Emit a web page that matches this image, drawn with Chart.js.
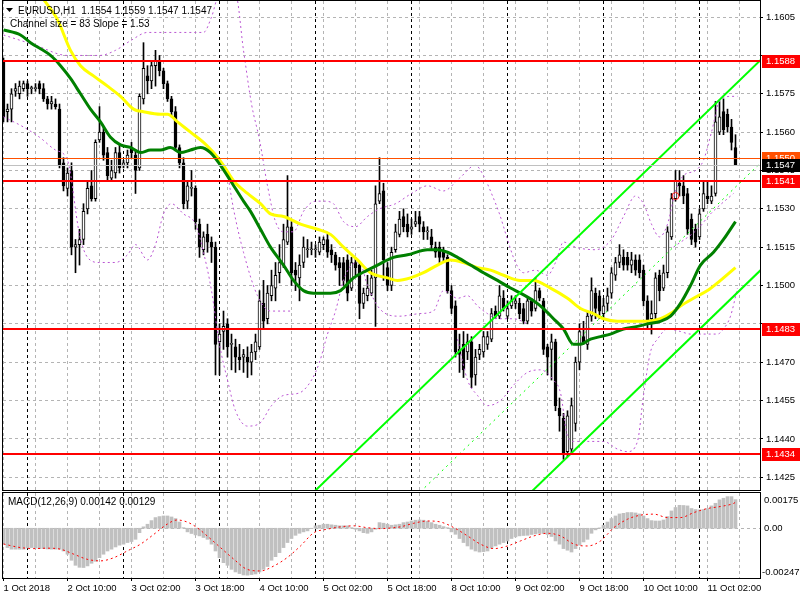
<!DOCTYPE html>
<html>
<head>
<meta charset="utf-8">
<title>EURUSD H1</title>
<script src="https://cdn.jsdelivr.net/npm/chart.js@4.4.1/dist/chart.umd.min.js"></script>
<style>
  html, body { margin:0; padding:0; background:#ffffff; width:800px; height:600px; overflow:hidden; }
  .pane { position:absolute; left:0; width:800px; }
  #mainPane { top:0; height:491px; }
  #macdPane { top:492px; height:108px; }
  canvas { display:block; }
</style>
</head>
<body>
<div class="pane" id="mainPane"><canvas id="mainChart" width="800" height="491"></canvas></div>
<div class="pane" id="macdPane"><canvas id="macdChart" width="800" height="108"></canvas></div>
<script>
// ---------------- DATA ----------------
const symbol = 'EURUSD';
const timeframe = 'H1';
const channelText = 'Channel size = 83 Slope = 1.53';

const timeTickBars = [0, 16, 32, 48, 64, 80, 96, 112, 128, 144, 160, 176];
const timeTickLabels = ['1 Oct 2018', '2 Oct 10:00', '3 Oct 02:00', '3 Oct 18:00', '4 Oct 10:00', '5 Oct 02:00',
  '5 Oct 18:00', '8 Oct 10:00', '9 Oct 02:00', '9 Oct 18:00', '10 Oct 10:00', '11 Oct 02:00'];
const gridBars = [0, 8, 16, 24, 32, 40, 48, 56, 64, 72, 80, 88, 96, 104, 112, 120, 128, 136, 144, 152, 160, 168, 176, 184];
const daySeparators = [6, 30, 54, 78, 102, 126, 150, 174];

const priceTicks = [1.1425, 1.1440, 1.1455, 1.1470, 1.1485, 1.1500, 1.1515, 1.1530, 1.1545, 1.1560, 1.1575, 1.1590, 1.1605];
const hiddenPriceLabels = [1.1590, 1.1485];
const levelPrices = [1.1588, 1.1541, 1.1483, 1.1434];
const askPrice = 1.1550;
const bidPrice = 1.1547;
const markerBars = [168];
const markerPrices = [1.1535];

const opens = [
1.1588,1.1568,1.1569,1.1576,1.1575,1.1577,1.1579,1.1577,1.1577,1.1579,
1.1577,1.1573,1.1571,1.1571,1.1569,1.1548,1.1538,1.1545,1.1515,1.1516,
1.1518,1.1530,1.1539,1.1534,1.1557,1.1560,1.1552,1.1542,1.1544,1.1552,
1.1547,1.1548,1.1554,1.1551,1.1546,1.1573,1.1582,1.1580,1.1586,1.1588,
1.1584,1.1579,1.1573,1.1568,1.1554,1.1548,1.1533,1.1538,1.1538,1.1524,
1.1514,1.1520,1.1517,1.1515,1.1478,1.1482,1.1485,1.1477,1.1476,1.1472,
1.1472,1.1472,1.1470,1.1474,1.1476,1.1493,1.1487,1.1496,1.1499,1.1505,
1.1508,1.1517,1.1523,1.1506,1.1503,1.1509,1.1514,1.1514,1.1514,1.1513,
1.1516,1.1518,1.1514,1.1512,1.1509,1.1509,1.1510,1.1499,1.1509,1.1508,
1.1493,1.1496,1.1497,1.1503,1.1533,1.1537,1.1507,1.1500,1.1514,1.1520,
1.1527,1.1524,1.1522,1.1524,1.1527,1.1523,1.1521,1.1519,1.1515,1.1515,
1.1513,1.1511,1.1498,1.1492,1.1475,1.1477,1.1474,1.1478,1.1465,1.1473,
1.1474,1.1477,1.1479,1.1490,1.1488,1.1495,1.1488,1.1492,1.1493,1.1493,
1.1491,1.1486,1.1494,1.1491,1.1498,1.1494,1.1476,1.1475,1.1478,1.1452,
1.1448,1.1435,1.1436,1.1446,1.1470,1.1480,1.1477,1.1488,1.1497,1.1496,
1.1489,1.1493,1.1497,1.1504,1.1509,1.1511,1.1511,1.1508,1.1510,1.1510,
1.1506,1.1494,1.1487,1.1489,1.1504,1.1499,1.1505,1.1519,1.1534,1.1540,
1.1539,1.1536,1.1526,1.1522,1.1519,1.1530,1.1535,1.1533,1.1536,1.1560,
1.1568,1.1567,1.1562,1.1554];
const highs = [
1.1589,1.1571,1.1577,1.1579,1.1580,1.1580,1.1580,1.1578,1.1579,1.1580,
1.1579,1.1574,1.1574,1.1573,1.1571,1.1550,1.1546,1.1548,1.1518,1.1522,
1.1532,1.1541,1.1545,1.1557,1.1570,1.1562,1.1554,1.1549,1.1554,1.1555,
1.1549,1.1553,1.1556,1.1553,1.1575,1.1595,1.1586,1.1588,1.1592,1.1590,
1.1585,1.1580,1.1574,1.1570,1.1555,1.1550,1.1541,1.1545,1.1539,1.1526,
1.1521,1.1524,1.1519,1.1517,1.1485,1.1490,1.1487,1.1481,1.1479,1.1477,
1.1475,1.1476,1.1477,1.1481,1.1498,1.1502,1.1500,1.1506,1.1509,1.1516,
1.1524,1.1543,1.1525,1.1509,1.1512,1.1519,1.1518,1.1517,1.1516,1.1519,
1.1519,1.1520,1.1516,1.1513,1.1511,1.1511,1.1512,1.1511,1.1511,1.1509,
1.1499,1.1504,1.1506,1.1539,1.1550,1.1540,1.1509,1.1515,1.1524,1.1529,
1.1530,1.1528,1.1526,1.1529,1.1529,1.1525,1.1523,1.1522,1.1517,1.1517,
1.1515,1.1512,1.1500,1.1494,1.1481,1.1482,1.1481,1.1480,1.1475,1.1477,
1.1482,1.1482,1.1491,1.1492,1.1500,1.1498,1.1494,1.1496,1.1496,1.1495,
1.1493,1.1495,1.1495,1.1503,1.1499,1.1495,1.1477,1.1481,1.1479,1.1456,
1.1450,1.1451,1.1456,1.1472,1.1485,1.1486,1.1490,1.1503,1.1499,1.1498,
1.1495,1.1499,1.1507,1.1511,1.1516,1.1514,1.1513,1.1513,1.1512,1.1512,
1.1508,1.1496,1.1494,1.1505,1.1506,1.1508,1.1523,1.1536,1.1545,1.1545,
1.1543,1.1538,1.1528,1.1524,1.1530,1.1541,1.1541,1.1539,1.1572,1.1572,
1.1573,1.1569,1.1565,1.1559];
const lows = [
1.1564,1.1564,1.1564,1.1574,1.1573,1.1576,1.1574,1.1575,1.1576,1.1575,
1.1572,1.1569,1.1569,1.1569,1.1546,1.1537,1.1535,1.1512,1.1505,1.1508,
1.1516,1.1528,1.1533,1.1533,1.1556,1.1549,1.1541,1.1541,1.1542,1.1544,
1.1546,1.1546,1.1550,1.1536,1.1545,1.1571,1.1575,1.1577,1.1578,1.1582,
1.1577,1.1572,1.1566,1.1553,1.1546,1.1530,1.1530,1.1535,1.1522,1.1511,
1.1512,1.1513,1.1509,1.1465,1.1465,1.1475,1.1472,1.1467,1.1466,1.1467,
1.1466,1.1464,1.1465,1.1471,1.1475,1.1483,1.1485,1.1494,1.1494,1.1501,
1.1507,1.1516,1.1500,1.1498,1.1494,1.1507,1.1511,1.1512,1.1511,1.1512,
1.1514,1.1511,1.1509,1.1506,1.1500,1.1500,1.1494,1.1498,1.1504,1.1487,
1.1491,1.1494,1.1496,1.1484,1.1532,1.1502,1.1498,1.1498,1.1513,1.1519,
1.1521,1.1519,1.1520,1.1523,1.1521,1.1518,1.1518,1.1514,1.1511,1.1509,
1.1509,1.1497,1.1489,1.1472,1.1466,1.1464,1.1471,1.1460,1.1461,1.1471,
1.1472,1.1475,1.1478,1.1487,1.1487,1.1490,1.1487,1.1491,1.1491,1.1487,
1.1485,1.1485,1.1488,1.1490,1.1494,1.1473,1.1465,1.1463,1.1451,1.1443,
1.1432,1.1433,1.1434,1.1443,1.1467,1.1477,1.1475,1.1486,1.1487,1.1487,
1.1487,1.1490,1.1495,1.1502,1.1507,1.1506,1.1506,1.1505,1.1504,1.1503,
1.1492,1.1483,1.1481,1.1487,1.1494,1.1498,1.1503,1.1518,1.1533,1.1535,
1.1532,1.1520,1.1516,1.1515,1.1518,1.1529,1.1532,1.1532,1.1535,1.1559,
1.1559,1.1560,1.1553,1.1547];
const closes = [
1.1566,1.1569,1.1575,1.1577,1.1578,1.1579,1.1577,1.1577,1.1577,1.1577,
1.1573,1.1571,1.1572,1.1570,1.1547,1.1539,1.1544,1.1515,1.1516,1.1518,
1.1529,1.1538,1.1534,1.1556,1.1560,1.1551,1.1543,1.1545,1.1552,1.1546,
1.1548,1.1551,1.1552,1.1545,1.1574,1.1585,1.1580,1.1586,1.1588,1.1584,
1.1579,1.1573,1.1568,1.1554,1.1548,1.1532,1.1539,1.1538,1.1525,1.1515,
1.1519,1.1517,1.1515,1.1477,1.1481,1.1484,1.1476,1.1477,1.1472,1.1471,
1.1473,1.1470,1.1474,1.1478,1.1494,1.1486,1.1497,1.1500,1.1504,1.1509,
1.1518,1.1523,1.1505,1.1504,1.1508,1.1515,1.1514,1.1514,1.1514,1.1517,
1.1518,1.1513,1.1512,1.1508,1.1507,1.1502,1.1497,1.1509,1.1507,1.1493,
1.1497,1.1499,1.1503,1.1532,1.1536,1.1510,1.1500,1.1513,1.1521,1.1526,
1.1523,1.1521,1.1523,1.1525,1.1524,1.1521,1.1521,1.1516,1.1513,1.1511,
1.1511,1.1498,1.1491,1.1474,1.1473,1.1467,1.1478,1.1464,1.1472,1.1475,
1.1480,1.1480,1.1489,1.1488,1.1496,1.1491,1.1491,1.1494,1.1494,1.1489,
1.1486,1.1494,1.1490,1.1498,1.1495,1.1475,1.1472,1.1478,1.1453,1.1449,
1.1434,1.1449,1.1453,1.1470,1.1482,1.1478,1.1488,1.1498,1.1491,1.1490,
1.1492,1.1496,1.1505,1.1509,1.1512,1.1508,1.1508,1.1510,1.1506,1.1505,
1.1494,1.1486,1.1489,1.1503,1.1498,1.1505,1.1521,1.1534,1.1541,1.1539,
1.1535,1.1522,1.1518,1.1517,1.1528,1.1536,1.1534,1.1535,1.1564,1.1566,
1.1561,1.1562,1.1556,1.1547];

// moving averages (bar index, price)
const maGreenBars = [0,4.25,6.75,11.75,14.25,16.75,19.25,21.75,24.25,26.75,29.25,31.75,34.25,36.75,39.25,41.75,44.25,46.75,49.25,51.75,
  54.25,56.75,60,61.75,64.25,66.75,70,72.5,75,77.5,81.75,84.25,87.5,91,93.5,97.5,101,106,108.5,111,
  113.5,116.75,120,123.5,126.75,129.25,132.5,135,137.5,140,142.5,144.25,146.75,149.25,151.75,155,158.5,161,164.25,166.75,
  169.25,171.75,174.25,177.5,180,183];
const maGreen = [1.1600,1.1598,1.1595,1.1590,1.1586,1.1581,1.1575,1.1569,1.1564,1.1558,1.1555,1.1554,1.1552,1.1553,1.1553,1.1554,1.1552,1.1553,1.1554,1.1552,
  1.1547,1.1541,1.1533,1.1529,1.1522,1.1515,1.1508,1.1502,1.1498,1.1497,1.1497,1.1498,1.1503,1.1506,1.1508,1.1511,1.1512,1.1514,1.1514,1.1513,
  1.1511,1.1508,1.1505,1.1502,1.1499,1.1497,1.1494,1.1491,1.1487,1.1483,1.1477,1.1477,1.1479,1.1480,1.1481,1.1483,1.1484,1.1485,1.1486,1.1488,
  1.1493,1.1500,1.1508,1.1513,1.1518,1.1525];
const maYellowBars = [10,13.5,16.75,19.25,22.5,26,29.25,32.5,35,39.25,41,43.5,46.75,50,52.5,55,57.5,61,64.25,66.75,
  70,74.25,78.5,81.75,85,88.5,91.75,96,98.5,101.75,105,108.5,111.75,115,118.5,121.75,125,129.25,132.5,136.75,
  141,144.25,147.5,150,153.5,157.5,161,164.25,166.75,169.25,172.5,176,179.25,183];
const maYellow = [1.1612,1.1604,1.1592,1.1586,1.1582,1.1578,1.1574,1.1569,1.1568,1.1567,1.1567,1.1564,1.1560,1.1556,1.1552,1.1547,1.1541,1.1536,1.1532,1.1528,
  1.1527,1.1524,1.1522,1.1520,1.1515,1.1510,1.1505,1.1503,1.1502,1.1503,1.1505,1.1508,1.1510,1.1509,1.1507,1.1506,1.1504,1.1502,1.1502,1.1499,
  1.1495,1.1491,1.1489,1.1487,1.1486,1.1486,1.1486,1.1487,1.1489,1.1492,1.1495,1.1498,1.1502,1.1507];

// dotted bands (bar index, price)
const bandUpperBars = [0,8,16,24,28,32,36,44,50,52,54,58,60,62,64,66,68,70,72.5,75,
  78,80,82.5,85,88,91,94,98,102,106,110,114,118,120,122,124,126,128,130,133,
  136,138,140,143,148,152,155,158,160,162,164,166,168,170,173,175,177,179,182,183.5];
const bandUpper = [1.1598,1.1594,1.1590,1.1590,1.1592,1.1596,1.1599,1.1599,1.1599,1.1605,1.1614,1.1614,1.1592,1.1571,1.1557,1.1539,1.1525,1.1521,1.1521,1.1529,
  1.1533,1.1533,1.1532,1.1525,1.1523,1.1527,1.1530,1.1532,1.1536,1.1539,1.1537,1.1542,1.1547,1.1543,1.1536,1.1528,1.1518,1.1509,1.1505,1.1506,
  1.1504,1.1509,1.1517,1.1515,1.1514,1.1518,1.1527,1.1535,1.1532,1.1524,1.1519,1.1524,1.1537,1.1543,1.1545,1.1549,1.1560,1.1572,1.1574,1.1574];
const bandLowerBars = [0,5,9,13,16,19,21,24,28,31,33,36,38,40,42,45,48,50,52,54,
  56,58,61,64,67,70,74,77,79,81,83,85,87,89,91,94,99,104,107.5,110,
  113.5,116,118.5,121,123.5,127.5,131];
const bandLower = [1.1566,1.1562,1.1558,1.1553,1.1549,1.1520,1.1511,1.1509,1.1509,1.1512,1.1516,1.1510,1.1516,1.1528,1.1532,1.1528,1.1524,1.1513,1.1498,1.1477,
  1.1463,1.1451,1.1445,1.1446,1.1453,1.1457,1.1458,1.1463,1.1470,1.1481,1.1490,1.1502,1.1508,1.1509,1.1500,1.1491,1.1488,1.1489,1.1490,1.1498,
  1.1495,1.1496,1.1492,1.1489,1.1487,1.1487,1.1485];
const bandOuterLowBars = [113.5,116,118.5,121,124.25,127.5,131,134.25,137.5,139.25,141,142.5,146,150,153.5,156,158.5,160,161.75,163.5,
  166,169.25,171.75,176,178.5,180,181.75,183.5];
const bandOuterLow = [1.1479,1.1463,1.1457,1.1453,1.1455,1.1461,1.1466,1.1467,1.1463,1.1458,1.1441,1.1439,1.1439,1.1439,1.1436,1.1435,1.1439,1.1457,1.1474,1.1479,
  1.1483,1.1482,1.1481,1.1481,1.1481,1.1483,1.1488,1.1499];
const bandInnerLeftBars = [56,57.5,60,63.5,66.75,71.75];
const bandInnerLeft = [1.1544,1.1530,1.1513,1.1496,1.1490,1.1490];
const bandInnerRightBars = [167.5,173.5,176.75,182.5];
const bandInnerRight = [1.1515,1.1522,1.1528,1.1536];

// regression channel (bar index, price at both ends)
const channelBars = [60, 190];
const channelUpper = [1.13926, 1.15893];
const channelMiddle = [1.13524, 1.15491];
const channelLower = [1.13104, 1.15071];

// MACD(12,26,9)
const macdMain = [
-0.00079,-0.00096,-0.00104,-0.00104,-0.00104,-0.00104,-0.00098,-0.00096,-0.00098,-0.00101,
-0.00101,-0.00103,-0.00104,-0.00104,-0.00104,-0.00113,-0.00129,-0.00159,-0.00184,-0.00194,
-0.00195,-0.00187,-0.00174,-0.00164,-0.00146,-0.00129,-0.00113,-0.00104,-0.00093,-0.00084,
-0.00079,-0.00071,-0.00066,-0.00055,-0.00022,0.00007,0.00020,0.00038,0.00053,0.00058,
0.00061,0.00061,0.00056,0.00048,0.00031,0.00003,-0.00018,-0.00026,-0.00033,-0.00038,
-0.00046,-0.00055,-0.00079,-0.00113,-0.00146,-0.00171,-0.00184,-0.00204,-0.00217,-0.00225,
-0.00232,-0.00233,-0.00230,-0.00227,-0.00217,-0.00204,-0.00190,-0.00159,-0.00141,-0.00121,
-0.00096,-0.00071,-0.00051,-0.00035,-0.00025,-0.00018,-0.00013,-0.00002,0.00012,0.00015,
0.00020,0.00020,0.00017,0.00015,0.00012,0.00012,0.00012,0.00003,-0.00005,-0.00013,
-0.00022,-0.00025,-0.00018,-0.00005,0.00028,0.00025,0.00020,0.00015,0.00017,0.00020,
0.00028,0.00031,0.00036,0.00040,0.00041,0.00040,0.00035,0.00028,0.00020,0.00015,
0.00008,0.00003,-0.00018,-0.00030,-0.00051,-0.00071,-0.00088,-0.00104,-0.00113,-0.00118,
-0.00116,-0.00113,-0.00099,-0.00088,-0.00079,-0.00071,-0.00063,-0.00051,-0.00043,-0.00038,
-0.00036,-0.00035,-0.00031,-0.00028,-0.00025,-0.00026,-0.00031,-0.00041,-0.00063,-0.00079,
-0.00101,-0.00109,-0.00118,-0.00101,-0.00084,-0.00068,-0.00055,-0.00025,-0.00008,0.00002,
0.00015,0.00031,0.00048,0.00061,0.00071,0.00074,0.00078,0.00078,0.00076,0.00071,
0.00061,0.00048,0.00038,0.00036,0.00036,0.00041,0.00058,0.00086,0.00103,0.00114,
0.00113,0.00111,0.00098,0.00093,0.00091,0.00093,0.00098,0.00111,0.00124,0.00141,
0.00149,0.00157,0.00157,0.00142];
const macdSignalBars = [0,4.25,7.6,10.9,14.25,17.6,20.9,24.25,27.6,30.9,34.25,37.6,40.9,43.4,45.9,48.4,50.9,54.25,57.6,60.9,
  64.25,67.6,70.9,74.25,77.6,80.9,84.25,87.6,90.9,94.25,97.6,99.25,102.6,106,109.25,112.6,116,119.25,122.6,126,
  129.25,132.6,136,139.25,142.6,146,149.25,152.6,156,159.25,162.6,166,169.25,172.6,176,179.25,182.6,183];
const macdSignal = [-0.00078,-0.00096,-0.00101,-0.00099,-0.00104,-0.00129,-0.00154,-0.00162,-0.00146,-0.00113,-0.00079,-0.00030,0.00020,0.00041,0.00031,0.00003,-0.00038,-0.00096,-0.00154,-0.00204,
  -0.00212,-0.00187,-0.00146,-0.00088,-0.00022,-0.00005,0.00007,0.00012,0.00003,-0.00002,0.00003,0.00007,0.00025,0.00036,0.00031,0.00003,-0.00038,-0.00079,-0.00101,-0.00088,
  -0.00063,-0.00038,-0.00025,-0.00038,-0.00079,-0.00088,-0.00063,0.00003,0.00045,0.00065,0.00070,0.00053,0.00053,0.00078,0.00098,0.00108,0.00124,0.00129];
const macdMax = 0.00175;
const macdMin = -0.00247;

// ---------------- CHARTS ----------------
const priceMin = 1.14200, priceMax = 1.16113;
const xMin = -0.125, xMax = 189.125;
const FONT_FAMILY = '"Liberation Sans", Arial, sans-serif';
const FONT_SIZE = 9.5;
const FONT = FONT_SIZE + 'px ' + FONT_FAMILY;
const TITLE_FONT = '10px ' + FONT_FAMILY;
const GRID = '#b4b4b4';
const last = closes.length - 1;
const headerText = symbol + ',' + timeframe + '  ' + [opens[last], highs[last], lows[last], closes[last]].map(v => v.toFixed(4)).join(' ');
const macdTitle = 'MACD(12,26,9) ' + macdMain[last].toFixed(5) + ' ' + macdSignal[macdSignal.length - 1].toFixed(5);

const pts = (bars, vals) => bars.map((b, k) => ({ x: b, y: vals[k] }));
const lineDs = (label, bars, vals, color, width, dash, order, smooth) => ({
  type: 'line', label, data: pts(bars, vals), borderColor: color, borderWidth: width,
  borderDash: dash, pointRadius: 0, fill: false, order,
  cubicInterpolationMode: smooth ? 'monotone' : 'default', tension: 0
});
const vline = (ctx, px, top, bottom) => { ctx.beginPath(); ctx.moveTo(px, top); ctx.lineTo(px, bottom); ctx.stroke(); };
const noPad = s => { s.paddingTop = 0; s.paddingBottom = 0; s.paddingLeft = 0; s.paddingRight = 0; };

const mainDecor = {
  id: 'mainDecor',
  beforeDatasetsDraw(chart) {
    const { ctx, chartArea: a, scales: { x } } = chart;
    ctx.save();
    ctx.strokeStyle = '#000'; ctx.lineWidth = 1; ctx.setLineDash([3, 3]);
    daySeparators.forEach(b => vline(ctx, Math.floor(x.getPixelForValue(b)) + 0.5, a.top, a.bottom));
    ctx.restore();
  },
  afterDatasetsDraw(chart) {
    const { ctx, chartArea: a, scales: { y } } = chart;
    ctx.save();
    ctx.beginPath(); ctx.rect(a.left, a.top, a.right - a.left, a.bottom - a.top); ctx.clip();
    ctx.setLineDash([]);
    const hline = (p, color, w) => {
      const py = Math.round(y.getPixelForValue(p)) + (w % 2 ? 0.5 : 0);
      ctx.strokeStyle = color; ctx.lineWidth = w;
      ctx.beginPath(); ctx.moveTo(a.left, py); ctx.lineTo(a.right, py); ctx.stroke();
    };
    hline(bidPrice, '#c0c0c0', 1);
    hline(askPrice, '#ff5000', 1);
    levelPrices.forEach(p => hline(p, '#ff0000', 2));
    ctx.restore();
  },
  afterDraw(chart) {
    const { ctx, chartArea: a, scales: { y } } = chart;
    ctx.save();
    ctx.setLineDash([]);
    ctx.strokeStyle = '#000'; ctx.lineWidth = 1;
    ctx.strokeRect(a.left - 0.5, a.top - 0.5, a.right - a.left + 1, a.bottom - a.top + 1);
    ctx.font = FONT; ctx.textBaseline = 'middle'; ctx.textAlign = 'left';
    const box = (p, bg, fg) => {
      const py = Math.round(y.getPixelForValue(p));
      ctx.fillStyle = bg; ctx.fillRect(a.right + 2, py - 6, 38, 13);
      ctx.fillStyle = fg; ctx.fillText(p.toFixed(4), a.right + 6, py + 0.5);
    };
    levelPrices.forEach(p => box(p, '#ff0000', '#ffffff'));
    box(askPrice, '#ff5000', '#ffffff');
    box(bidPrice, '#000000', '#ffffff');
    ctx.fillStyle = '#000';
    ctx.font = TITLE_FONT;
    ctx.beginPath(); ctx.moveTo(6, 8); ctx.lineTo(13, 8); ctx.lineTo(9.5, 12); ctx.closePath(); ctx.fill();
    ctx.fillText(headerText, 18, 11);
    ctx.fillText(channelText, 10, 24);
    ctx.restore();
  }
};

new Chart(document.getElementById('mainChart'), {
  type: 'bar',
  data: {
    datasets: [
      { type: 'bar', label: 'wicks', data: lows.map((l, i) => ({ x: i, y: [l, highs[i]] })),
        backgroundColor: '#000', borderWidth: 0, barThickness: 1, grouped: false, order: 6 },
      { type: 'bar', label: 'bodies', data: opens.map((o, i) => ({ x: i, y: [o, closes[i]] })),
        backgroundColor: (c) => closes[c.dataIndex] >= opens[c.dataIndex] ? '#ffffff' : '#000000',
        borderColor: '#000', borderWidth: 1, borderSkipped: false, barThickness: 3, minBarLength: 1, grouped: false, order: 5 },
      lineDs('bandUpper', bandUpperBars, bandUpper, '#ba55d3', 1, [2, 3], 4, true),
      lineDs('bandLower', bandLowerBars, bandLower, '#ba55d3', 1, [2, 3], 4, true),
      lineDs('bandOuterLow', bandOuterLowBars, bandOuterLow, '#ba55d3', 1, [2, 3], 4, true),
      lineDs('bandInnerLeft', bandInnerLeftBars, bandInnerLeft, '#ba55d3', 1, [2, 3], 4, true),
      lineDs('bandInnerRight', bandInnerRightBars, bandInnerRight, '#ba55d3', 1, [2, 3], 4, true),
      lineDs('maYellow', maYellowBars, maYellow, '#ffff00', 3, [], 3, true),
      lineDs('maGreen', maGreenBars, maGreen, '#008000', 3, [], 2, true),
      lineDs('chUpper', channelBars, channelUpper, '#00ff00', 2, [], 1, false),
      lineDs('chMiddle', channelBars, channelMiddle, '#00ff00', 1, [2, 4], 1, false),
      lineDs('chLower', channelBars, channelLower, '#00ff00', 2, [], 1, false),
      { type: 'scatter', label: 'marker', data: pts(markerBars, markerPrices), pointStyle: 'circle',
        pointRadius: 3.5, borderColor: '#ff2020', backgroundColor: 'rgba(0,0,0,0)', borderWidth: 1, order: 0 }
    ]
  },
  options: {
    responsive: false, animation: false, devicePixelRatio: 1,
    layout: { autoPadding: false, padding: { left: 3, top: 1, bottom: 1, right: 0 } },
    plugins: { legend: { display: false }, tooltip: { enabled: false } },
    scales: {
      x: {
        type: 'linear', min: xMin, max: xMax, offset: false,
        afterBuildTicks: s => { s.ticks = gridBars.map(v => ({ value: v })); },
        afterFit: s => { s.height = 0; noPad(s); },
        ticks: { display: false },
        grid: { color: GRID, drawTicks: false, offset: false, lineWidth: 1 },
        border: { display: false, dash: [3, 3] }
      },
      y: {
        position: 'right', min: priceMin, max: priceMax,
        afterBuildTicks: s => { s.ticks = priceTicks.map(v => ({ value: v })); },
        afterFit: s => { s.width = 40; noPad(s); },
        ticks: { color: '#000', font: { family: FONT_FAMILY, size: FONT_SIZE }, padding: 3,
          callback: v => hiddenPriceLabels.includes(v) ? '' : Number(v).toFixed(4) },
        grid: { color: GRID, tickLength: 3, tickColor: '#000', tickBorderDash: [], lineWidth: 1 },
        border: { display: false, dash: [3, 3] }
      }
    }
  },
  plugins: [mainDecor]
});

const macdDecor = {
  id: 'macdDecor',
  beforeDatasetsDraw(chart) {
    const { ctx, chartArea: a, scales: { x, y } } = chart;
    ctx.save();
    ctx.lineWidth = 1; ctx.setLineDash([3, 3]);
    ctx.strokeStyle = '#000';
    daySeparators.forEach(b => vline(ctx, Math.floor(x.getPixelForValue(b)) + 0.5, a.top, a.bottom));
    ctx.strokeStyle = GRID;
    const zy = Math.round(y.getPixelForValue(0)) + 0.5;
    ctx.beginPath(); ctx.moveTo(a.left, zy); ctx.lineTo(a.right, zy); ctx.stroke();
    ctx.restore();
  },
  afterDraw(chart) {
    const { ctx, chartArea: a, scales: { y } } = chart;
    ctx.save();
    ctx.setLineDash([]);
    ctx.strokeStyle = '#000'; ctx.lineWidth = 1;
    ctx.strokeRect(a.left - 0.5, a.top - 0.5, a.right - a.left + 1, a.bottom - a.top + 1);
    ctx.fillStyle = '#000'; ctx.textAlign = 'left'; ctx.textBaseline = 'middle';
    ctx.font = TITLE_FONT;
    ctx.fillText(macdTitle, 8, 10);
    ctx.font = FONT;
    ctx.fillText(macdMax.toFixed(5), a.right + 4, y.getPixelForValue(macdMax) + 7);
    ctx.fillText('0.00', a.right + 4, y.getPixelForValue(0) + 0.5);
    ctx.fillText(macdMin.toFixed(5), a.right + 2, y.getPixelForValue(macdMin) - 6);
    ctx.restore();
  }
};

new Chart(document.getElementById('macdChart'), {
  type: 'bar',
  data: {
    datasets: [
      { type: 'bar', label: 'MACD', data: macdMain.map((v, i) => ({ x: i, y: v })),
        backgroundColor: '#c0c0c0', borderWidth: 0, barThickness: 3, grouped: false, order: 2 },
      lineDs('Signal', macdSignalBars, macdSignal, '#ff0000', 1, [2, 3], 1, true)
    ]
  },
  options: {
    responsive: false, animation: false, devicePixelRatio: 1,
    layout: { autoPadding: false, padding: { left: 3, top: 1, bottom: 0, right: 0 } },
    plugins: { legend: { display: false }, tooltip: { enabled: false } },
    scales: {
      x: {
        type: 'linear', min: xMin, max: xMax, offset: false,
        afterBuildTicks: s => { s.ticks = gridBars.map(v => ({ value: v })); },
        afterFit: s => { s.height = 22; noPad(s); },
        ticks: { display: true, autoSkip: false, maxRotation: 0, minRotation: 0, align: 'start', padding: 2,
          color: '#000', font: { family: FONT_FAMILY, size: FONT_SIZE },
          callback: v => { const k = timeTickBars.indexOf(v); return k >= 0 ? timeTickLabels[k] : ''; } },
        grid: { color: GRID, drawTicks: true, tickLength: 3, offset: false, lineWidth: 1,
          tickColor: c => (c.tick && timeTickBars.includes(c.tick.value)) ? '#000' : 'rgba(0,0,0,0)' },
        border: { display: false, dash: [3, 3] }
      },
      y: {
        position: 'right', min: macdMin, max: macdMax,
        afterFit: s => { s.width = 40; noPad(s); },
        ticks: { display: false },
        grid: { display: false },
        border: { display: false }
      }
    }
  },
  plugins: [macdDecor]
});
</script>
</body>
</html>
